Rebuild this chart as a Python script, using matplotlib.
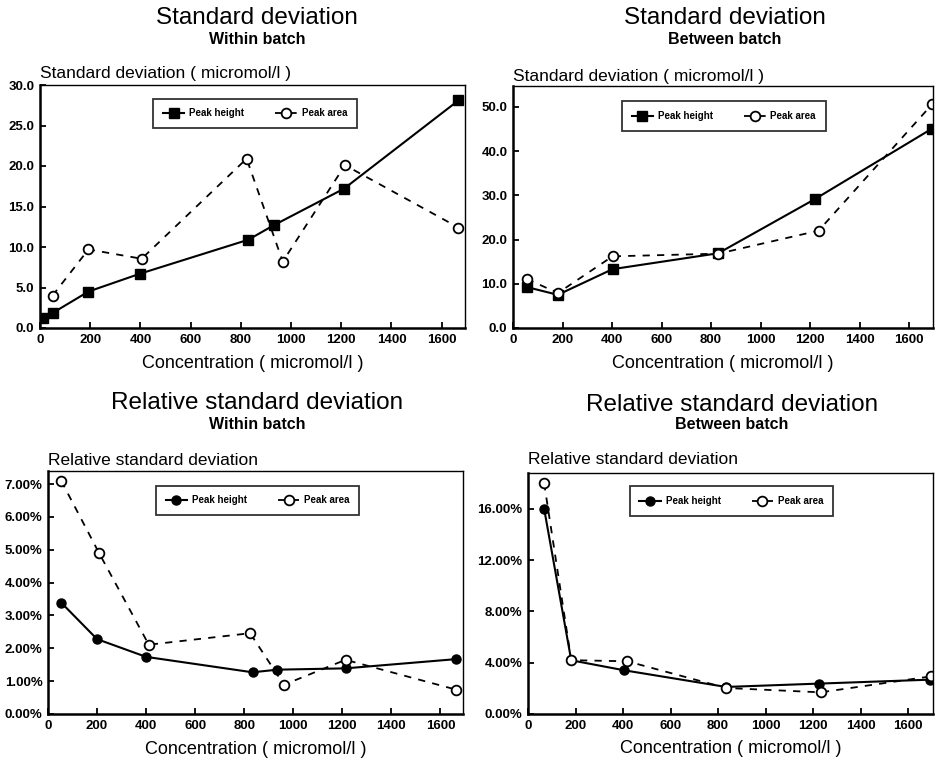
import matplotlib
matplotlib.use("Agg")
import matplotlib.pyplot as plt
from matplotlib.ticker import FormatStrFormatter, FixedLocator

plt.rcParams['font.family'] = ['Liberation Sans', 'DejaVu Sans']

# ---- Data ----
# Panel 1: Standard deviation, within batch
sd_within_height_x = [10, 50, 193, 398, 830, 932, 1211, 1667]
sd_within_height_y = [1.2, 1.85, 4.5, 6.7, 10.9, 12.7, 17.2, 28.1]
sd_within_area_x = [50, 193, 405, 823, 967, 1215, 1667]
sd_within_area_y = [4.0, 9.7, 8.55, 20.9, 8.2, 20.1, 12.4]

# Panel 2: Standard deviation, between batch
sd_between_height_x = [56, 181, 402, 829, 1218, 1690]
sd_between_height_y = [9.25, 7.5, 13.3, 16.9, 29.1, 45.0]
sd_between_area_x = [56, 181, 402, 829, 1234, 1693]
sd_between_area_y = [11.1, 7.9, 16.2, 16.8, 22.0, 50.6]

# Panel 3: Relative standard deviation (%), within batch
rsd_within_height_x = [54, 200, 400, 834, 935, 1213, 1662]
rsd_within_height_y = [3.39, 2.28, 1.74, 1.27, 1.35, 1.39, 1.67]
rsd_within_area_x = [54, 209, 411, 824, 962, 1213, 1665]
rsd_within_area_y = [7.10, 4.89, 2.11, 2.46, 0.89, 1.65, 0.74]

# Panel 4: Relative standard deviation (%), between batch
rsd_between_height_x = [68, 182, 405, 834, 1223, 1694]
rsd_between_height_y = [16.0, 4.19, 3.41, 2.11, 2.37, 2.68]
rsd_between_area_x = [68, 182, 418, 834, 1232, 1698]
rsd_between_area_y = [18.0, 4.2, 4.11, 2.03, 1.69, 2.94]

x_ticks = [0, 200, 400, 600, 800, 1000, 1200, 1400, 1600]
sd_within_yticks = [0, 5, 10, 15, 20, 25, 30]
sd_between_yticks = [0, 10, 20, 30, 40, 50]
rsd_within_yticks = [0, 1, 2, 3, 4, 5, 6, 7]
rsd_between_yticks = [0, 4, 8, 12, 16]

titles = ["Standard deviation", "Standard deviation",
          "Relative standard deviation", "Relative standard deviation"]
subtitles = ["Within batch", "Between batch", "Within batch", "Between batch"]
ylabels = ["Standard deviation ( micromol/l )", "Standard deviation ( micromol/l )",
           "Relative standard deviation", "Relative standard deviation"]
xlabel = "Concentration ( micromol/l )"
legend_labels = ["Peak height", "Peak area"]

fig = plt.figure(figsize=(9.35, 7.64), dpi=100)
W, H = 935.0, 764.0

def make_ax(l, r, t, b):
    return fig.add_axes([l / W, 1 - b / H, (r - l) / W, (b - t) / H])

axes_px = [(40, 465, 85, 328), (513, 933, 86, 328), (48, 463, 471, 714), (528, 933, 473, 714)]
ylims = [(0, 30), (0, 54.7), (0, 7.4), (0, 18.8)]
xlims = [(0, 1693), (0, 1696), (0, 1692), (0, 1705)]
yticks_all = [sd_within_yticks, sd_between_yticks, rsd_within_yticks, rsd_between_yticks]
yfmt = ['%.1f', '%.1f', '%.2f%%', '%.2f%%']
series = [
    (sd_within_height_x, sd_within_height_y, sd_within_area_x, sd_within_area_y, 's'),
    (sd_between_height_x, sd_between_height_y, sd_between_area_x, sd_between_area_y, 's'),
    (rsd_within_height_x, rsd_within_height_y, rsd_within_area_x, rsd_within_area_y, 'o'),
    (rsd_between_height_x, rsd_between_height_y, rsd_between_area_x, rsd_between_area_y, 'o'),
]
legend_pos = [(0.506, 0.883), (0.502, 0.876), (0.505, 0.879), (0.502, 0.884)]
ylabel_y = [1.049, 1.041, 1.045, 1.054]
title_pos = [(257, 18, 39), (725, 18, 39), (257, 403, 425), (732, 405, 425)]

for i in range(4):
    ax = make_ax(*axes_px[i])
    hx, hy, ax_, ay, mk = series[i]
    ax.plot(hx, hy, color='black', lw=1.5, marker=mk, markersize=6.5,
            markerfacecolor='black', markeredgecolor='black', label=legend_labels[0])
    ax.plot(ax_, ay, color='black', lw=1.3, linestyle=(0, (4, 4)), marker='o',
            markersize=7, markerfacecolor='white', markeredgecolor='black',
            markeredgewidth=1.3, label=legend_labels[1])
    ax.set_xlim(*xlims[i])
    ax.set_ylim(*ylims[i])
    ax.xaxis.set_major_locator(FixedLocator(x_ticks))
    ax.yaxis.set_major_locator(FixedLocator(yticks_all[i]))
    ax.yaxis.set_major_formatter(FormatStrFormatter(yfmt[i]))
    ax.tick_params(direction='in', length=4, width=1.3, labelsize=9.5, pad=4)
    for lab in ax.get_xticklabels() + ax.get_yticklabels():
        lab.set_fontweight('bold')
    for s in ['left', 'bottom']:
        ax.spines[s].set_linewidth(1.8)
    for s in ['top', 'right']:
        ax.spines[s].set_linewidth(1.0)
    ax.text(0, ylabel_y[i], ylabels[i], transform=ax.transAxes, ha='left',
            va='center', fontsize=12.5)
    ax.text(0.5, -0.145, xlabel, transform=ax.transAxes, ha='center',
            va='center', fontsize=13)
    leg = ax.legend(loc='center', bbox_to_anchor=legend_pos[i], ncol=2,
                    frameon=True, fancybox=False, edgecolor='black',
                    prop={'size': 7, 'weight': 'bold'}, handlelength=2.2,
                    columnspacing=3.2, borderpad=1.0, handletextpad=0.5)
    leg.get_frame().set_linewidth(1.3)
    tx, ty, sy = title_pos[i]
    fig.text(tx / W, 1 - ty / H, titles[i], ha='center', va='center', fontsize=17.5)
    fig.text(tx / W, 1 - sy / H, subtitles[i], ha='center', va='center',
             fontsize=11.5, fontweight='bold')

fig.savefig("out.png", dpi=100)
